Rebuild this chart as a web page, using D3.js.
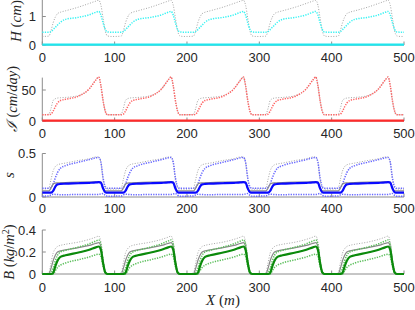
<!DOCTYPE html>
<html><head><meta charset="utf-8">
<script src="https://cdn.jsdelivr.net/npm/d3@7"></script>
<style>body{margin:0;background:#fff}svg{display:block}</style>
</head><body>
<script>
// shared x positions (m)
const xGrid = [0,9,12,15,18,21,25,32,50,65,74,78,81,84,87,90,95,
100,109,112,115,118,121,125,132,150,165,174,178,181,184,187,190,195,
200,209,212,215,218,221,225,232,250,265,274,278,281,284,287,290,295,
300,309,312,315,318,321,325,332,350,365,374,378,381,384,387,390,395,
400,409,412,415,418,421,425,432,450,465,474,478,481,484,487,490,495,500];
const xTicks = [0,100,200,300,400,500];

// H (cm)
const hMean = [0.45,0.45,0.47,0.54,0.62,0.70,0.80,0.90,0.97,1.06,1.15,1.18,1.05,0.78,0.55,0.46,0.45,
0.45,0.45,0.47,0.54,0.62,0.70,0.80,0.90,0.97,1.06,1.15,1.18,1.05,0.78,0.55,0.46,0.45,
0.45,0.45,0.47,0.54,0.62,0.70,0.80,0.90,0.97,1.06,1.15,1.18,1.05,0.78,0.55,0.46,0.45,
0.45,0.45,0.47,0.54,0.62,0.70,0.80,0.90,0.97,1.06,1.15,1.18,1.05,0.78,0.55,0.46,0.45,
0.45,0.45,0.47,0.54,0.62,0.70,0.80,0.90,0.97,1.06,1.15,1.18,1.05,0.78,0.55,0.46,0.45,0.45];
const hGray = [0.30,0.31,0.50,0.78,0.98,1.10,1.15,1.20,1.33,1.46,1.54,1.57,1.40,0.95,0.50,0.32,0.30,
0.30,0.31,0.50,0.78,0.98,1.10,1.15,1.20,1.33,1.46,1.54,1.57,1.40,0.95,0.50,0.32,0.30,
0.30,0.31,0.50,0.78,0.98,1.10,1.15,1.20,1.33,1.46,1.54,1.57,1.40,0.95,0.50,0.32,0.30,
0.30,0.31,0.50,0.78,0.98,1.10,1.15,1.20,1.33,1.46,1.54,1.57,1.40,0.95,0.50,0.32,0.30,
0.30,0.31,0.50,0.78,0.98,1.10,1.15,1.20,1.33,1.46,1.54,1.57,1.40,0.95,0.50,0.32,0.30,0.30];
const hBase = [0.01,0.01];
const baseX = [0,500];

// I (cm/day)
const iMean = [10,10,11,16,23,29,33,35,40,52,66,71,57,33,16,10,10,
10,10,11,16,23,29,33,35,40,52,66,71,57,33,16,10,10,
10,10,11,16,23,29,33,35,40,52,66,71,57,33,16,10,10,
10,10,11,16,23,29,33,35,40,52,66,71,57,33,16,10,10,
10,10,11,16,23,29,33,35,40,52,66,71,57,33,16,10,10,10];
const iGray = [10,11,20,33,36,37,37.5,38,41,52,66,71,57,33,16,10,10,
10,11,20,33,36,37,37.5,38,41,52,66,71,57,33,16,10,10,
10,11,20,33,36,37,37.5,38,41,52,66,71,57,33,16,10,10,
10,11,20,33,36,37,37.5,38,41,52,66,71,57,33,16,10,10,
10,11,20,33,36,37,37.5,38,41,52,66,71,57,33,16,10,10,10];
const iBase = [0.5,0.5];

// s
const sUpper = [0.10,0.10,0.11,0.15,0.22,0.28,0.33,0.36,0.40,0.43,0.45,0.455,0.40,0.22,0.12,0.10,0.10,
0.10,0.10,0.11,0.15,0.22,0.28,0.33,0.36,0.40,0.43,0.45,0.455,0.40,0.22,0.12,0.10,0.10,
0.10,0.10,0.11,0.15,0.22,0.28,0.33,0.36,0.40,0.43,0.45,0.455,0.40,0.22,0.12,0.10,0.10,
0.10,0.10,0.11,0.15,0.22,0.28,0.33,0.36,0.40,0.43,0.45,0.455,0.40,0.22,0.12,0.10,0.10,
0.10,0.10,0.11,0.15,0.22,0.28,0.33,0.36,0.40,0.43,0.45,0.455,0.40,0.22,0.12,0.10,0.10,0.10];
const sGrayUpper = [0.09,0.10,0.20,0.30,0.35,0.37,0.38,0.39,0.42,0.44,0.46,0.46,0.40,0.20,0.10,0.09,0.09,
0.09,0.10,0.20,0.30,0.35,0.37,0.38,0.39,0.42,0.44,0.46,0.46,0.40,0.20,0.10,0.09,0.09,
0.09,0.10,0.20,0.30,0.35,0.37,0.38,0.39,0.42,0.44,0.46,0.46,0.40,0.20,0.10,0.09,0.09,
0.09,0.10,0.20,0.30,0.35,0.37,0.38,0.39,0.42,0.44,0.46,0.46,0.40,0.20,0.10,0.09,0.09,
0.09,0.10,0.20,0.30,0.35,0.37,0.38,0.39,0.42,0.44,0.46,0.46,0.40,0.20,0.10,0.09,0.09,0.09];
const sMean = [0.05,0.05,0.05,0.07,0.12,0.145,0.15,0.153,0.158,0.163,0.167,0.17,0.165,0.10,0.055,0.05,0.05,
0.05,0.05,0.05,0.07,0.12,0.145,0.15,0.153,0.158,0.163,0.167,0.17,0.165,0.10,0.055,0.05,0.05,
0.05,0.05,0.05,0.07,0.12,0.145,0.15,0.153,0.158,0.163,0.167,0.17,0.165,0.10,0.055,0.05,0.05,
0.05,0.05,0.05,0.07,0.12,0.145,0.15,0.153,0.158,0.163,0.167,0.17,0.165,0.10,0.055,0.05,0.05,
0.05,0.05,0.05,0.07,0.12,0.145,0.15,0.153,0.158,0.163,0.167,0.17,0.165,0.10,0.055,0.05,0.05,0.05];
const sGrayMean = [0.07,0.07,0.10,0.15,0.16,0.162,0.163,0.165,0.17,0.172,0.175,0.176,0.17,0.10,0.07,0.07,0.07,
0.07,0.07,0.10,0.15,0.16,0.162,0.163,0.165,0.17,0.172,0.175,0.176,0.17,0.10,0.07,0.07,0.07,
0.07,0.07,0.10,0.15,0.16,0.162,0.163,0.165,0.17,0.172,0.175,0.176,0.17,0.10,0.07,0.07,0.07,
0.07,0.07,0.10,0.15,0.16,0.162,0.163,0.165,0.17,0.172,0.175,0.176,0.17,0.10,0.07,0.07,0.07,
0.07,0.07,0.10,0.15,0.16,0.162,0.163,0.165,0.17,0.172,0.175,0.176,0.17,0.10,0.07,0.07,0.07,0.07];
const sLower = [0.01,0.012,0.025,0.032,0.03,0.028,0.027,0.027,0.028,0.028,0.029,0.03,0.035,0.04,0.02,0.01,0.01,
0.01,0.012,0.025,0.032,0.03,0.028,0.027,0.027,0.028,0.028,0.029,0.03,0.035,0.04,0.02,0.01,0.01,
0.01,0.012,0.025,0.032,0.03,0.028,0.027,0.027,0.028,0.028,0.029,0.03,0.035,0.04,0.02,0.01,0.01,
0.01,0.012,0.025,0.032,0.03,0.028,0.027,0.027,0.028,0.028,0.029,0.03,0.035,0.04,0.02,0.01,0.01,
0.01,0.012,0.025,0.032,0.03,0.028,0.027,0.027,0.028,0.028,0.029,0.03,0.035,0.04,0.02,0.01,0.01,0.01];

// B (kg/m^2)
const bGrayUpper = [0,0.01,0.10,0.19,0.23,0.25,0.26,0.27,0.29,0.315,0.335,0.345,0.29,0.13,0.02,0,0,
0,0.01,0.10,0.19,0.23,0.25,0.26,0.27,0.29,0.315,0.335,0.345,0.29,0.13,0.02,0,0,
0,0.01,0.10,0.19,0.23,0.25,0.26,0.27,0.29,0.315,0.335,0.345,0.29,0.13,0.02,0,0,
0,0.01,0.10,0.19,0.23,0.25,0.26,0.27,0.29,0.315,0.335,0.345,0.29,0.13,0.02,0,0,
0,0.01,0.10,0.19,0.23,0.25,0.26,0.27,0.29,0.315,0.335,0.345,0.29,0.13,0.02,0,0,0];
const bGrayMean = [0,0,0.05,0.12,0.17,0.20,0.21,0.22,0.24,0.26,0.278,0.285,0.25,0.11,0.01,0,0,
0,0,0.05,0.12,0.17,0.20,0.21,0.22,0.24,0.26,0.278,0.285,0.25,0.11,0.01,0,0,
0,0,0.05,0.12,0.17,0.20,0.21,0.22,0.24,0.26,0.278,0.285,0.25,0.11,0.01,0,0,
0,0,0.05,0.12,0.17,0.20,0.21,0.22,0.24,0.26,0.278,0.285,0.25,0.11,0.01,0,0,
0,0,0.05,0.12,0.17,0.20,0.21,0.22,0.24,0.26,0.278,0.285,0.25,0.11,0.01,0,0,0];
const bUpper = [0,0,0.01,0.05,0.12,0.17,0.20,0.215,0.245,0.275,0.30,0.31,0.27,0.12,0.02,0,0,
0,0,0.01,0.05,0.12,0.17,0.20,0.215,0.245,0.275,0.30,0.31,0.27,0.12,0.02,0,0,
0,0,0.01,0.05,0.12,0.17,0.20,0.215,0.245,0.275,0.30,0.31,0.27,0.12,0.02,0,0,
0,0,0.01,0.05,0.12,0.17,0.20,0.215,0.245,0.275,0.30,0.31,0.27,0.12,0.02,0,0,
0,0,0.01,0.05,0.12,0.17,0.20,0.215,0.245,0.275,0.30,0.31,0.27,0.12,0.02,0,0,0];
const bMean = [0,0,0,0.01,0.07,0.12,0.155,0.17,0.195,0.22,0.242,0.25,0.22,0.10,0.015,0,0,
0,0,0,0.01,0.07,0.12,0.155,0.17,0.195,0.22,0.242,0.25,0.22,0.10,0.015,0,0,
0,0,0,0.01,0.07,0.12,0.155,0.17,0.195,0.22,0.242,0.25,0.22,0.10,0.015,0,0,
0,0,0,0.01,0.07,0.12,0.155,0.17,0.195,0.22,0.242,0.25,0.22,0.10,0.015,0,0,
0,0,0,0.01,0.07,0.12,0.155,0.17,0.195,0.22,0.242,0.25,0.22,0.10,0.015,0,0,0];
const bLower = [0,0,0,0,0.03,0.06,0.08,0.10,0.13,0.155,0.175,0.18,0.16,0.07,0.01,0,0,
0,0,0,0,0.03,0.06,0.08,0.10,0.13,0.155,0.175,0.18,0.16,0.07,0.01,0,0,
0,0,0,0,0.03,0.06,0.08,0.10,0.13,0.155,0.175,0.18,0.16,0.07,0.01,0,0,
0,0,0,0,0.03,0.06,0.08,0.10,0.13,0.155,0.175,0.18,0.16,0.07,0.01,0,0,
0,0,0,0,0.03,0.06,0.08,0.10,0.13,0.155,0.175,0.18,0.16,0.07,0.01,0,0,0];

const hTicks = [0,1], iTicks = [0,50], sTicks = [0,0.5], bTicks = [0,0.2,0.4];

const W = 415, H = 310;
const svg = d3.select("body").append("svg").attr("width", W).attr("height", H);
const x = d3.scaleLinear().domain([0,500]).range([42.3,404]);

const DOT_G = {color:"#a6a6a6", w:1, dash:"1,1.6"};
const panels = [
  {dom:[0,1.58], rng:[45,0], ticks:hTicks, fmt:d3.format("d"), tickY:61.5,
   label:[["H","i"],[" (","n"],["cm","i"],[")","n"]], lx:20.5, ly:21, fs:15,
   series:[
     {xs:xGrid, ys:hGray, ...DOT_G},
     {xs:xGrid, ys:hMean, color:"#3cf3f3", w:1.5, dash:"1.3,1.2"},
     {xs:baseX, ys:hBase, color:"#1ee6ee", w:2.2}
   ]},
  {dom:[0,70], rng:[121,77.6], ticks:iTicks, fmt:d3.format("d"), tickY:138,
   label:[["\u2110","i"],[" (","n"],["cm","i"],["/","n"],["day","i"],[")","n"]], lx:16.5, ly:99, fs:14.5,
   series:[
     {xs:xGrid, ys:iGray, ...DOT_G},
     {xs:xGrid, ys:iMean, color:"#ff6464", w:1.5, dash:"1.3,1.2"},
     {xs:baseX, ys:iBase, color:"#ff2a2a", w:2.2}
   ]},
  {dom:[0,0.5], rng:[197,153.5], ticks:sTicks, fmt:d => d===0?"0":d3.format(".1f")(d), tickY:213,
   label:[["s","i"]], lx:14, ly:175, fs:15,
   series:[
     {xs:xGrid, ys:sGrayUpper, ...DOT_G},
     {xs:xGrid, ys:sUpper, color:"#6868ff", w:1.5, dash:"1.3,1.2"},
     {xs:xGrid, ys:sLower, color:"#6868ff", w:1.5, dash:"1.3,1.2"},
     {xs:xGrid, ys:sGrayMean, color:"#8a8a8a", w:1.2},
     {xs:xGrid, ys:sMean, color:"#0a0aff", w:2.2}
   ]},
  {dom:[0,0.4], rng:[274,230], ticks:bTicks, fmt:d => d===0?"0":d3.format(".1f")(d), tickY:292,
   label:[["B","i"],[" (","n"],["kg","i"],["/","n"],["m","i"],["2","s"],[")","n"]], lx:14, ly:252, fs:14.5,
   series:[
     {xs:xGrid, ys:bGrayUpper, ...DOT_G},
     {xs:xGrid, ys:bGrayMean, color:"#8a8a8a", w:1.2},
     {xs:xGrid, ys:bUpper, color:"#5cbf5c", w:1.5, dash:"1.3,1.2"},
     {xs:xGrid, ys:bLower, color:"#5cbf5c", w:1.5, dash:"1.3,1.2"},
     {xs:xGrid, ys:bMean, color:"#0b8a0b", w:2.2}
   ]}
];

const AX = "#8c8c8c", TXT = "#262626";
panels.forEach(p => {
  const y = d3.scaleLinear().domain(p.dom).range(p.rng);
  const g = svg.append("g");
  g.append("line").attr("x1", x(0)).attr("x2", x(500)).attr("y1", y(0)).attr("y2", y(0))
    .attr("stroke", AX).attr("stroke-width", 1);
  g.append("line").attr("x1", x(0)).attr("x2", x(0)).attr("y1", y(0)).attr("y2", p.rng[1])
    .attr("stroke", AX).attr("stroke-width", 1);
  xTicks.forEach(t => {
    g.append("line").attr("x1", x(t)).attr("x2", x(t)).attr("y1", y(0)).attr("y2", y(0)-3.5)
      .attr("stroke", AX).attr("stroke-width", 1);
    g.append("text").attr("x", x(t)).attr("y", p.tickY).attr("text-anchor","middle")
      .attr("font-family","Liberation Sans, Arial, sans-serif").attr("font-size", 13)
      .attr("fill", TXT).text(t);
  });
  p.ticks.forEach(t => {
    g.append("line").attr("x1", x(0)).attr("x2", x(0)+3.5).attr("y1", y(t)).attr("y2", y(t))
      .attr("stroke", AX).attr("stroke-width", 1);
    g.append("text").attr("x", 36).attr("y", y(t)).attr("dy","0.35em").attr("text-anchor","end")
      .attr("font-family","Liberation Sans, Arial, sans-serif").attr("font-size", 13)
      .attr("fill", TXT).text(p.fmt(t));
  });
  p.series.forEach(s => {
    const pts = s.xs.map((xv,i) => [xv, s.ys[i]]);
    const line = d3.line().x(d => x(d[0])).y(d => y(d[1])).curve(d3.curveMonotoneX);
    g.append("path").attr("d", line(pts)).attr("fill","none")
      .attr("stroke", s.color).attr("stroke-width", s.w)
      .attr("stroke-dasharray", s.dash || null);
  });
  const lab = g.append("text").attr("transform", `translate(${p.lx},${p.ly}) rotate(-90)`)
    .attr("text-anchor","middle").attr("font-family","Liberation Serif, DejaVu Serif, serif")
    .attr("font-size", p.fs).attr("fill", TXT);
  p.label.forEach(([t, st]) => {
    const ts = lab.append("tspan").text(t);
    if (st === "i") ts.attr("font-style","italic");
    if (st === "s") ts.attr("font-size", 10).attr("baseline-shift","super");
  });
});

const xl = svg.append("text").attr("x", 223).attr("y", 305).attr("text-anchor","middle")
  .attr("font-family","Liberation Serif, DejaVu Serif, serif").attr("font-size", 15).attr("fill", TXT);
xl.append("tspan").attr("font-style","italic").text("X");
xl.append("tspan").text(" (");
xl.append("tspan").attr("font-style","italic").text("m");
xl.append("tspan").text(")");
</script>
</body></html>
